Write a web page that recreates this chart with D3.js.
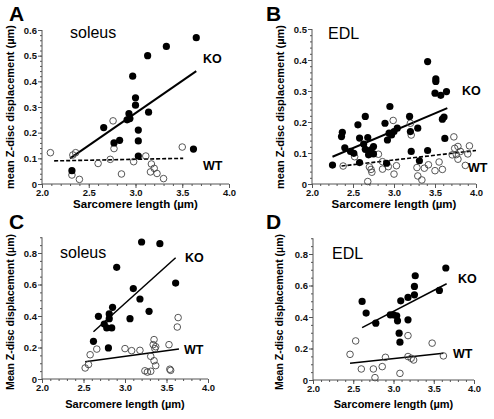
<!DOCTYPE html>
<html><head><meta charset="utf-8">
<script src="https://cdnjs.cloudflare.com/ajax/libs/d3/7.8.5/d3.min.js"></script>
<style>body{margin:0;background:#fff}svg{display:block}</style>
</head><body><svg id="c" width="494" height="419"></svg>
<script>
// ---- data ----
const xTickValues = [2.0, 2.5, 3.0, 3.5, 4.0];
const yTicksAB_A = [0, 0.1, 0.2, 0.3, 0.4, 0.5, 0.6];
const yTicksAB_B = [0, 0.1, 0.2, 0.3, 0.4, 0.5];
const yTicksCD = [0, 0.2, 0.4, 0.6, 0.8];

const soleusA_KO = [[2.32,0.052],[2.66,0.22],[2.77,0.16],[2.83,0.17],[2.91,0.25],[2.94,0.255],[2.93,0.274],[2.97,0.42],[3.0,0.336],[3.0,0.307],[3.03,0.21],[3.03,0.168],[3.03,0.109],[3.13,0.50],[3.14,0.28],[3.33,0.536],[3.65,0.57],[3.62,0.136]];
const soleusA_WT = [[2.09,0.122],[2.32,0.035],[2.33,0.113],[2.36,0.122],[2.40,0.018],[2.60,0.08],[2.76,0.246],[2.77,0.138],[2.73,0.096],[2.85,0.039],[2.98,0.087],[3.11,0.109],[3.17,0.078],[3.20,0.061],[3.16,0.047],[3.23,0.041],[3.30,0.021],[3.50,0.144]];
const soleusA_KOfit = [[2.30,0.10],[3.65,0.44]];
const soleusA_WTfit = [[2.13,0.09],[3.51,0.10]];

const edlB_KO = [[2.25,0.061],[2.36,0.153],[2.37,0.167],[2.40,0.117],[2.47,0.105],[2.51,0.099],[2.56,0.191],[2.58,0.148],[2.58,0.069],[2.63,0.129],[2.65,0.112],[2.65,0.218],[2.68,0.15],[2.69,0.094],[2.72,0.110],[2.75,0.121],[2.75,0.097],[2.89,0.196],[2.91,0.067],[2.92,0.142],[2.94,0.164],[2.95,0.25],[2.97,0.158],[3.00,0.169],[3.04,0.18],[3.19,0.218],[3.20,0.169],[3.21,0.105],[3.29,0.18],[3.31,0.075],[3.41,0.395],[3.41,0.108],[3.51,0.339],[3.51,0.331],[3.50,0.293],[3.57,0.286],[3.59,0.209],[3.61,0.216],[3.62,0.147],[3.64,0.298]];
const edlB_WT = [[2.38,0.058],[2.52,0.088],[2.70,0.055],[2.72,0.047],[2.73,0.038],[2.68,0.008],[2.81,0.096],[2.86,0.072],[2.86,0.048],[2.93,0.056],[3.00,0.032],[3.03,0.059],[2.99,0.205],[3.20,0.196],[3.21,0.158],[3.28,0.053],[3.29,0.026],[3.34,0.013],[3.37,0.051],[3.42,0.062],[3.50,0.043],[3.55,0.071],[3.59,0.047],[3.73,0.152],[3.74,0.115],[3.78,0.121],[3.76,0.095],[3.78,0.08],[3.81,0.105],[3.87,0.06],[3.92,0.123],[3.90,0.097],[3.71,0.094]];
const edlB_KOfit = [[2.25,0.088],[3.65,0.245]];
const edlB_WTfit = [[2.36,0.058],[4.0,0.108]];

const soleusC_KO = [[2.62,0.239],[2.68,0.398],[2.75,0.349],[2.78,0.324],[2.80,0.197],[2.81,0.413],[2.81,0.383],[2.84,0.324],[2.85,0.455],[2.90,0.709],[3.06,0.383],[3.10,0.574],[3.18,0.508],[3.20,0.87],[3.29,0.43],[3.42,0.859],[3.61,0.609]];
const soleusC_WT = [[2.52,0.07],[2.56,0.092],[2.58,0.154],[2.66,0.19],[3.00,0.193],[3.08,0.18],[3.18,0.182],[3.24,0.052],[3.27,0.044],[3.31,0.049],[3.31,0.144],[3.34,0.218],[3.35,0.25],[3.36,0.193],[3.35,0.116],[3.37,0.085],[3.53,0.218],[3.54,0.062],[3.55,0.055],[3.63,0.33],[3.64,0.39],[3.37,0.205]];
const soleusC_KOfit = [[2.62,0.30],[3.61,0.77]];
const soleusC_WTfit = [[2.52,0.11],[3.65,0.19]];

const edlD_KO = [[2.61,0.499],[2.66,0.425],[2.78,0.361],[2.96,0.414],[3.0,0.414],[3.04,0.408],[3.05,0.376],[3.07,0.297],[3.08,0.24],[3.09,0.503],[3.18,0.524],[3.18,0.382],[3.26,0.594],[3.26,0.541],[3.27,0.662],[3.57,0.569],[3.65,0.711]];
const edlD_WT = [[2.46,0.163],[2.53,0.248],[2.60,0.07],[2.75,0.07],[2.77,0.015],[2.86,0.085],[2.90,0.144],[3.08,0.042],[3.18,0.282],[3.18,0.149],[3.22,0.138],[3.25,0.127],[3.48,0.234],[3.62,0.153]];
const edlD_KOfit = [[2.61,0.333],[3.66,0.611]];
const edlD_WTfit = [[2.46,0.106],[3.62,0.17]];

// ---- drawing ----
const svg = d3.select("#c");
const FONT = "Liberation Sans, Arial, Helvetica, sans-serif";

function panel(o) {
  const g = svg.append("g");
  const x = d3.scaleLinear().domain([2, 4]).range(o.xr);
  const y = d3.scaleLinear().domain([0, o.ymax]).range(o.yr);
  const yTop = o.yTop !== undefined ? o.yTop : o.ymax;

  // minor ticks
  const xMinor = d3.range(2, 4.0001, 0.1);
  g.append("g").attr("transform", `translate(0,${o.yr[0]})`)
    .call(d3.axisBottom(x).tickValues(xMinor).tickSize(2).tickFormat(""))
    .call(a => a.select(".domain").remove());
  const yMinor = d3.range(0, yTop + 1e-6, o.yMinorStep);
  g.append("g").attr("transform", `translate(${o.xr[0]},0)`)
    .call(d3.axisLeft(y).tickValues(yMinor).tickSize(2).tickFormat(""))
    .call(a => a.select(".domain").remove());

  const xa = g.append("g").attr("transform", `translate(0,${o.yr[0]})`)
    .call(d3.axisBottom(x).tickValues(xTickValues).tickSize(4).tickPadding(1).tickFormat(d3.format(".1f")));
  xa.select(".domain").attr("d", `M${o.xr[0]},0H${o.xr[1]}`);
  const ya = g.append("g").attr("transform", `translate(${o.xr[0]},0)`)
    .call(d3.axisLeft(y).tickValues(o.yTicks).tickSize(4).tickPadding(1).tickFormat(d => d === 0 ? "0" : d3.format(".1f")(d)));
  ya.select(".domain").attr("d", `M0,${y(yTop)}V${o.yr[0]}`);
  g.selectAll(".tick text").attr("font-family", FONT).attr("font-weight", "bold").attr("font-size", 9.5).attr("fill", "#111");
  g.selectAll(".domain, .tick line").attr("stroke", "#555").attr("stroke-width", 1);

  // fits
  const line = d3.line().x(d => x(d[0])).y(d => y(d[1]));
  g.append("path").attr("d", line(o.koFit)).attr("fill", "none").attr("stroke", "#000").attr("stroke-width", o.koW);
  g.append("path").attr("d", line(o.wtFit)).attr("fill", "none").attr("stroke", "#000").attr("stroke-width", o.wtW)
    .attr("stroke-dasharray", o.wtDash ? "4,2" : null);

  // points
  g.selectAll("circle.wt").data(o.wt).join("circle").attr("class", "wt")
    .attr("cx", d => x(d[0])).attr("cy", d => y(d[1])).attr("r", 3.3)
    .attr("fill", "none").attr("stroke", "#444").attr("stroke-width", 0.9);
  g.selectAll("circle.ko").data(o.ko).join("circle").attr("class", "ko")
    .attr("cx", d => x(d[0])).attr("cy", d => y(d[1])).attr("r", 3.6)
    .attr("fill", "#000");

  // texts
  const t = (txt, px, py, size, weight, anchor) => g.append("text").text(txt)
    .attr("x", px).attr("y", py).attr("font-family", FONT).attr("font-size", size)
    .attr("font-weight", weight).attr("text-anchor", anchor || "start").attr("fill", "#000");
  t(o.letter, o.letterPos[0], o.letterPos[1], 21, "bold");
  t(o.muscle, o.musclePos[0], o.musclePos[1], 16, "normal");
  t("KO", o.koPos[0], o.koPos[1], 12.5, "bold");
  t("WT", o.wtPos[0], o.wtPos[1], 12.5, "bold");
  t("Sarcomere length (µm)", (o.xr[0] + o.xr[1]) / 2, o.xTitleY, o.xTitleSize, "bold", "middle");
  g.append("text").text(o.yTitle)
    .attr("transform", `translate(${o.yTitleX},${o.yTitleY}) rotate(-90)`)
    .attr("text-anchor", "middle").attr("font-family", FONT).attr("font-size", o.yTitleSize)
    .attr("font-weight", "bold").attr("fill", "#000");
}

panel({letter: "A", letterPos: [9, 21], muscle: "soleus", musclePos: [70, 38],
  xr: [42, 229], yr: [184, 30], ymax: 0.6, yTicks: yTicksAB_A, yMinorStep: 0.02,
  ko: soleusA_KO, wt: soleusA_WT, koFit: soleusA_KOfit, wtFit: soleusA_WTfit, koW: 2, wtW: 1.6, wtDash: true,
  koPos: [203, 63], wtPos: [203, 170], xTitleY: 208, xTitleSize: 11.5,
  yTitle: "mean Z-disc displacement  (µm)", yTitleX: 14, yTitleY: 107, yTitleSize: 11});
panel({letter: "B", letterPos: [266, 21], muscle: "EDL", musclePos: [328, 39],
  xr: [312, 476], yr: [184, 29], ymax: 0.5, yTicks: yTicksAB_B, yMinorStep: 0.02,
  ko: edlB_KO, wt: edlB_WT, koFit: edlB_KOfit, wtFit: edlB_WTfit, koW: 2, wtW: 1.6, wtDash: true,
  koPos: [462, 95], wtPos: [468, 172], xTitleY: 208, xTitleSize: 11.5,
  yTitle: "mean Z-disc displacement  (µm)", yTitleX: 284, yTitleY: 107, yTitleSize: 11});
panel({letter: "C", letterPos: [9, 229], muscle: "soleus", musclePos: [60, 258],
  xr: [42, 208], yr: [379, 253], ymax: 0.8, yTop: 0.9, yTicks: yTicksCD, yMinorStep: 0.05,
  ko: soleusC_KO, wt: soleusC_WT, koFit: soleusC_KOfit, wtFit: soleusC_WTfit, koW: 1.5, wtW: 1.5, wtDash: false,
  koPos: [185, 262], wtPos: [184, 354], xTitleY: 408, xTitleSize: 11,
  yTitle: "Mean Z-disc displacement  (µm)", yTitleX: 14, yTitleY: 312, yTitleSize: 10.5});
panel({letter: "D", letterPos: [266, 229], muscle: "EDL", musclePos: [332, 259],
  xr: [313, 474], yr: [380, 254], ymax: 0.8, yTop: 0.9, yTicks: yTicksCD, yMinorStep: 0.05,
  ko: edlD_KO, wt: edlD_WT, koFit: edlD_KOfit, wtFit: edlD_WTfit, koW: 1.5, wtW: 1.5, wtDash: false,
  koPos: [458, 283], wtPos: [453, 358], xTitleY: 408, xTitleSize: 11,
  yTitle: "Mean Z-disc displacement  (µm)", yTitleX: 283, yTitleY: 312, yTitleSize: 10.5});
</script></body></html>
